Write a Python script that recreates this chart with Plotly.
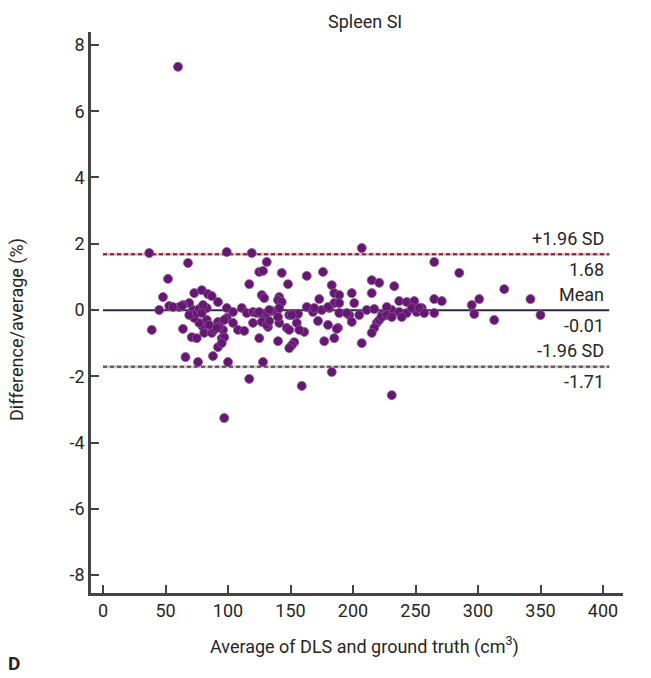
import plotly.graph_objects as go

# Bland-Altman data
avg_volume = [
    60, 37, 68, 52, 48, 45, 53, 39, 64, 71, 75, 66, 76, 99, 119, 117, 125, 128, 131, 143,
    163, 148, 127, 129, 73, 79, 84, 87, 69, 64, 61, 56, 83, 92, 99, 104, 111, 115, 120, 123,
    128, 131, 132, 99, 92, 96, 83, 80, 81, 87, 89, 77, 73, 108, 113, 95, 97, 92, 95, 125,
    88, 100, 128, 117, 97, 72, 69, 75, 77, 63, 80, 79, 125, 131, 135, 139, 149, 156, 163, 85,
    93, 97, 104, 120, 127, 131, 133, 141, 147, 155, 161, 141, 140, 143, 91, 140, 149, 157, 153, 151,
    149, 159, 207, 265, 176, 183, 215, 221, 233, 173, 185, 189, 185, 189, 199, 215, 201, 237, 243, 249,
    265, 133, 141, 151, 168, 175, 181, 189, 197, 205, 211, 217, 223, 231, 237, 243, 251, 255, 265, 169,
    180, 195, 227, 247, 140, 172, 180, 188, 199, 219, 221, 223, 227, 217, 215, 231, 239, 187, 185, 177,
    207, 183, 231, 285, 321, 271, 295, 301, 342, 253, 257, 297, 313, 350,
]
diff_pct = [
    7.34, 1.72, 1.42, 0.94, 0.39, 0.00, 0.12, -0.60, -0.57, -0.82, -0.85, -1.42, -1.57, 1.75, 1.72, 0.78, 1.15, 1.18, 1.45, 1.12,
    1.03, 0.78, 0.45, 0.36, 0.51, 0.60, 0.48, 0.42, 0.21, 0.15, 0.09, 0.09, 0.06, 0.24, 0.06, -0.06, 0.06, -0.09, -0.06, -0.09,
    -0.15, -0.30, -0.51, -0.24, -0.36, -0.60, -0.30, -0.51, -0.69, -0.69, -0.60, -0.39, -0.24, -0.60, -0.63, -0.85, -0.82, -1.12, -1.00, -0.85,
    -1.39, -1.57, -1.57, -2.08, -3.26, 0.00, -0.15, -0.09, 0.03, 0.12, 0.15, -0.09, -0.06, -0.09, -0.03, -0.06, -0.15, -0.12, 0.09, -0.45,
    -0.51, -0.30, -0.39, -0.39, -0.36, -0.45, -0.33, -0.39, -0.54, -0.39, -0.66, 0.39, 0.30, 0.24, -0.54, -0.94, -0.60, -0.60, -0.97, -1.06,
    -1.15, -2.29, 1.87, 1.45, 1.15, 0.75, 0.90, 0.82, 0.72, 0.33, 0.51, 0.45, 0.21, 0.21, 0.51, 0.51, 0.21, 0.27, 0.24, 0.27,
    0.33, 0.00, 0.06, -0.15, -0.06, 0.00, 0.06, -0.09, -0.15, -0.15, 0.00, 0.03, -0.15, 0.00, -0.06, -0.09, -0.06, 0.06, -0.09, 0.06,
    0.09, -0.09, 0.09, 0.06, -0.21, -0.33, -0.45, -0.54, -0.36, -0.39, -0.30, -0.21, -0.15, -0.54, -0.69, -0.21, -0.21, -0.57, -0.85, -0.94,
    -1.00, -1.87, -2.57, 1.12, 0.63, 0.27, 0.15, 0.33, 0.33, 0.06, -0.09, -0.12, -0.30, -0.15,
]

mean_diff = -0.01
upper_loa = 1.68
lower_loa = -1.71
line_x = [0, 405]

x_ticks = [0, 50, 100, 150, 200, 250, 300, 350, 400]
y_ticks = [-8, -6, -4, -2, 0, 2, 4, 6, 8]

FONT = "Roboto, Noto Sans, sans-serif"
TXT = "#262626"
FS = 18

fig = go.Figure()

# limits of agreement (light underlay + dark dashes)
for val, base, dash in [(upper_loa, "#e9b3ba", "#6e2a3a"), (lower_loa, "#d9c4c6", "#4d4d55")]:
    fig.add_trace(go.Scatter(x=line_x, y=[val, val], mode="lines",
                             line=dict(color=base, width=3), hoverinfo="skip", showlegend=False))
    fig.add_trace(go.Scatter(x=line_x, y=[val, val], mode="lines",
                             line=dict(color=dash, width=2, dash="4px,3px"), hoverinfo="skip", showlegend=False))

fig.add_trace(go.Scatter(x=line_x, y=[mean_diff, mean_diff], mode="lines",
                         line=dict(color="#2a2a44", width=2), hoverinfo="skip", showlegend=False))

fig.add_trace(go.Scatter(x=avg_volume, y=diff_pct, mode="markers",
                         marker=dict(color="#63196f", size=9, line=dict(width=0.8, color="#8f4f9c")),
                         showlegend=False))

ann = []
for val, top, bottom in [(upper_loa, "+1.96 SD", "1.68"), (mean_diff, "Mean", "-0.01"),
                         (lower_loa, "-1.96 SD", "-1.71")]:
    ann.append(dict(x=402, y=val, xref="x", yref="y", text=top, showarrow=False,
                    xanchor="right", yanchor="middle", yshift=16, font=dict(size=FS, color=TXT, family=FONT)))
    ann.append(dict(x=402, y=val, xref="x", yref="y", text=bottom, showarrow=False,
                    xanchor="right", yanchor="middle", yshift=-15, font=dict(size=FS, color=TXT, family=FONT)))

ann.append(dict(x=0.515, y=1.0, xref="paper", yref="paper", text="Spleen SI", showarrow=False,
                xanchor="center", yanchor="bottom", yshift=-2, font=dict(size=FS, color=TXT, family=FONT)))
ann.append(dict(x=-0.139, y=0.469, xref="paper", yref="paper", text="Difference/average (%)",
                showarrow=False, textangle=-90, xanchor="center", yanchor="middle",
                font=dict(size=FS, color=TXT, family=FONT)))
ann.append(dict(x=0.515, y=-0.093, xref="paper", yref="paper",
                text="Average of DLS and ground truth (cm<sup>3</sup>)", showarrow=False,
                xanchor="center", yanchor="middle", font=dict(size=FS, color=TXT, family=FONT)))
ann.append(dict(x=-0.145, y=-0.125, xref="paper", yref="paper", text="<b>D</b>", showarrow=False,
                xanchor="center", yanchor="middle", font=dict(size=19, color=TXT, family=FONT)))

fig.update_layout(
    width=651, height=678,
    margin=dict(l=91, r=28, t=32, b=85),
    paper_bgcolor="white", plot_bgcolor="white",
    annotations=ann,
    font=dict(family=FONT, size=FS, color=TXT),
)
fig.update_xaxes(range=[-9.6, 416], tickvals=x_ticks, ticktext=[str(v) for v in x_ticks],
                 showgrid=False, zeroline=False, showline=True, linecolor="#444444", linewidth=2.5,
                 ticks="inside", ticklen=8, tickwidth=2, tickcolor="#444444",
                 tickfont=dict(size=FS, color=TXT, family=FONT))
fig.update_yaxes(range=[-8.54, 8.39], tickvals=y_ticks, ticktext=[str(v) for v in y_ticks],
                 showgrid=False, zeroline=False, showline=True, linecolor="#444444", linewidth=2.5,
                 ticks="inside", ticklen=8, tickwidth=2, tickcolor="#444444",
                 tickfont=dict(size=FS, color=TXT, family=FONT))

fig.write_html("out.html")
